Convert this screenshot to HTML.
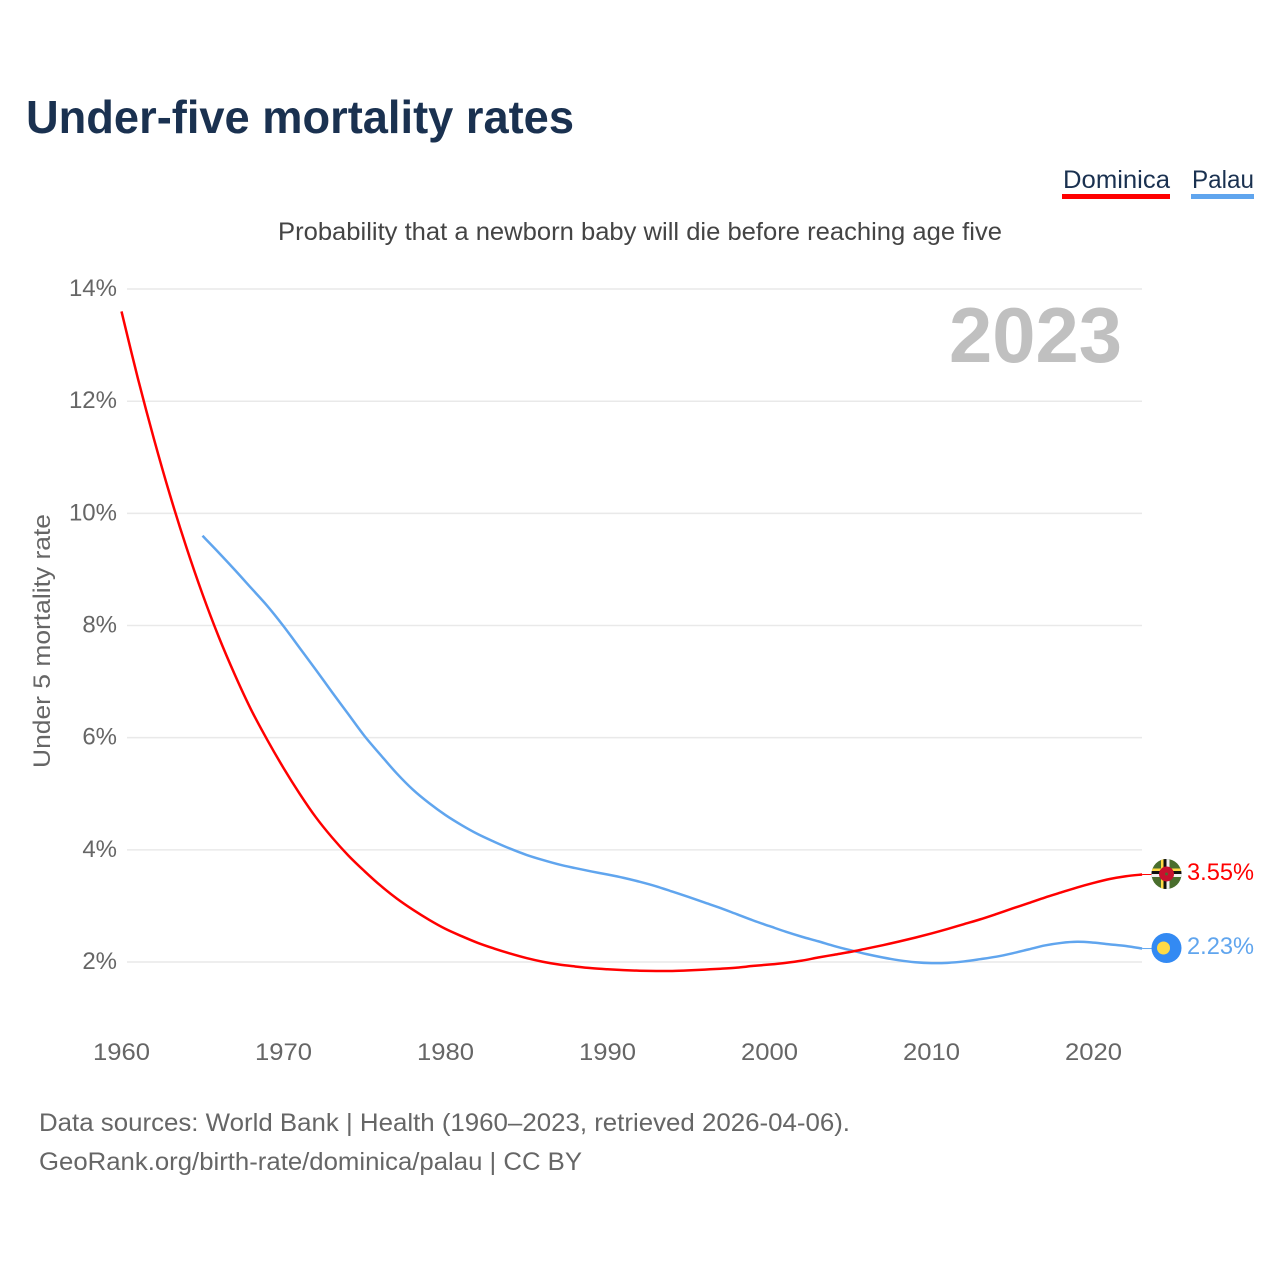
<!DOCTYPE html>
<html lang="en">
<head>
<meta charset="utf-8">
<title>Under-five mortality rates</title>
<style>
html,body{margin:0;padding:0;background:#fff;}
svg{display:block;font-family:"Liberation Sans",sans-serif;}
</style>
</head>
<body>
<svg id="chart" xmlns="http://www.w3.org/2000/svg" width="1280" height="1280" viewBox="0 0 1280 1280">
  <defs>
    <clipPath id="flag-clip-d"><circle cx="1166.5" cy="874" r="15"/></clipPath>
    <clipPath id="flag-clip-p"><circle cx="1166.5" cy="948" r="15"/></clipPath>
  </defs>
  <rect width="1280" height="1280" fill="#fff"/>
  <text x="26" y="133" font-size="46" font-weight="700" fill="#1a3150" textLength="548" lengthAdjust="spacingAndGlyphs">Under-five mortality rates</text>

  <text x="1063" y="188" font-size="25" fill="#1a3150" textLength="107" lengthAdjust="spacingAndGlyphs">Dominica</text>
  <rect x="1062" y="194" width="108" height="5" fill="#ff0000"/>
  <text x="1192" y="188" font-size="25" fill="#1a3150" textLength="62" lengthAdjust="spacingAndGlyphs">Palau</text>
  <rect x="1191" y="194" width="63" height="5" fill="#60a5ee"/>

  <text x="278" y="240" font-size="25" fill="#444" textLength="724" lengthAdjust="spacingAndGlyphs">Probability that a newborn baby will die before reaching age five</text>

  <text x="949" y="362" font-size="78" font-weight="700" fill="#c0c0c0" textLength="173" lengthAdjust="spacingAndGlyphs">2023</text>

  <text transform="translate(50 768) rotate(-90)" x="0" y="0" font-size="24" fill="#666" textLength="254" lengthAdjust="spacingAndGlyphs">Under 5 mortality rate</text>

  <g id="grid"></g>
  <g id="y-labels"></g>
  <g id="x-labels"></g>
  <g id="lines"></g>

  <g clip-path="url(#flag-clip-d)">
    <rect x="1151" y="859" width="31" height="30" fill="#496e2d"/>
    <rect x="1151" y="868.5" width="31" height="2.5" fill="#ffda44"/>
    <rect x="1151" y="871" width="31" height="3" fill="#111"/>
    <rect x="1151" y="874" width="31" height="3" fill="#f0f0f0"/>
    <rect x="1161" y="859" width="2.5" height="30" fill="#ffda44"/>
    <rect x="1163.5" y="859" width="3" height="30" fill="#111"/>
    <rect x="1166.5" y="859" width="3" height="30" fill="#f0f0f0"/>
    <circle cx="1166.5" cy="874" r="7.5" fill="#c8102e"/>
    <circle cx="1166.5" cy="874" r="1.5" fill="#496e2d"/>
  </g>
  <g clip-path="url(#flag-clip-p)">
    <rect x="1151" y="933" width="31" height="30" fill="#338af3"/>
    <circle cx="1163.5" cy="948" r="6.5" fill="#ffda44"/>
  </g>
  <text x="1187" y="880" font-size="24" fill="#ff0000" textLength="67" lengthAdjust="spacingAndGlyphs">3.55%</text>
  <text x="1187" y="954" font-size="24" fill="#60a5ee" textLength="67" lengthAdjust="spacingAndGlyphs">2.23%</text>

  <text x="39" y="1131" font-size="25" fill="#666" textLength="811" lengthAdjust="spacingAndGlyphs">Data sources: World Bank | Health (1960–2023, retrieved 2026-04-06).</text>
  <text x="39" y="1170" font-size="25" fill="#666" textLength="543" lengthAdjust="spacingAndGlyphs">GeoRank.org/birth-rate/dominica/palau | CC BY</text>
</svg>
<script>
var yTicks = [2, 4, 6, 8, 10, 12, 14];
var xTicks = [1960, 1970, 1980, 1990, 2000, 2010, 2020];
var dominicaStartYear = 1960;
var dominicaValues = [13.6, 12.42, 11.33, 10.32, 9.4, 8.56, 7.8, 7.12, 6.5, 5.96,
  5.46, 5.0, 4.58, 4.22, 3.9, 3.62, 3.36, 3.13, 2.93, 2.75,
  2.59, 2.46, 2.34, 2.24, 2.15, 2.07, 2.005, 1.955, 1.92, 1.89,
  1.87, 1.855, 1.845, 1.84, 1.84, 1.85, 1.865, 1.88, 1.9, 1.93,
  1.955, 1.985, 2.025, 2.08, 2.13, 2.18, 2.24, 2.3, 2.365, 2.435,
  2.51, 2.59, 2.675, 2.76, 2.855, 2.955, 3.05, 3.15, 3.24, 3.33,
  3.41, 3.48, 3.53, 3.56];
var palauStartYear = 1965;
var palauValues = [9.6, 9.3, 8.99, 8.67, 8.35,
  7.99, 7.6, 7.21, 6.81, 6.42, 6.03, 5.69, 5.36, 5.07, 4.83,
  4.62, 4.44, 4.28, 4.145, 4.02, 3.91, 3.82, 3.74, 3.675, 3.615,
  3.56, 3.5, 3.43, 3.35, 3.255, 3.16, 3.06, 2.96, 2.85, 2.74,
  2.64, 2.54, 2.45, 2.37, 2.285, 2.21, 2.14, 2.08, 2.03, 1.995,
  1.98, 1.985, 2.01, 2.05, 2.095, 2.155, 2.225, 2.295, 2.34, 2.36,
  2.345, 2.315, 2.285, 2.24];

var NS = 'http://www.w3.org/2000/svg';
function xPos(year) { return 121.5 + (year - 1960) * 16.2; }
function yPos(v) { return 962 - (v - 2) * 56.08; }
function make(tag, attrs, parent) {
  var el = document.createElementNS(NS, tag);
  for (var k in attrs) el.setAttribute(k, attrs[k]);
  parent.appendChild(el);
  return el;
}
var grid = document.getElementById('grid');
var yLabels = document.getElementById('y-labels');
var xLabels = document.getElementById('x-labels');
var lines = document.getElementById('lines');

yTicks.forEach(function (t) {
  var gl = make('line', {x1: 127, x2: 1142, y1: yPos(t), y2: yPos(t), stroke: '#e9e9e9', 'stroke-width': 1.5}, grid);
  
  
  var lab = make('text', {x: 117, y: yPos(t) + 7, 'text-anchor': 'end', 'font-size': 24, fill: '#666'}, yLabels);
  
  
  lab.textContent = t + '%';
});
xTicks.forEach(function (t) {
  var lab = make('text', {x: xPos(t), y: 1060, 'text-anchor': 'middle', 'font-size': 24, fill: '#666', textLength: 57, lengthAdjust: 'spacingAndGlyphs'}, xLabels);
  
  
  lab.textContent = t;
});
function smoothPath(values, start) {
  var pts = values.map(function (v, i) { return [xPos(start + i), yPos(v)]; });
  var d = 'M' + pts[0][0].toFixed(2) + ',' + pts[0][1].toFixed(2);
  for (var i = 0; i < pts.length - 1; i++) {
    var p0 = pts[Math.max(i - 1, 0)], p1 = pts[i], p2 = pts[i + 1], p3 = pts[Math.min(i + 2, pts.length - 1)];
    var c1x = p1[0] + (p2[0] - p0[0]) / 6, c1y = p1[1] + (p2[1] - p0[1]) / 6;
    var c2x = p2[0] - (p3[0] - p1[0]) / 6, c2y = p2[1] - (p3[1] - p1[1]) / 6;
    d += 'C' + c1x.toFixed(2) + ',' + c1y.toFixed(2) + ' ' + c2x.toFixed(2) + ',' + c2y.toFixed(2) + ' ' + p2[0].toFixed(2) + ',' + p2[1].toFixed(2);
  }
  return d;
}
var palauLine = make('path', {d: smoothPath(palauValues, palauStartYear), fill: 'none', stroke: '#60a5ee', 'stroke-width': 2.5, 'stroke-linejoin': 'round'}, lines);


var domLine = make('path', {d: smoothPath(dominicaValues, dominicaStartYear), fill: 'none', stroke: '#ff0000', 'stroke-width': 2.5, 'stroke-linejoin': 'round'}, lines);



var palauLast = palauValues[palauValues.length - 1];
var domLast = dominicaValues[dominicaValues.length - 1];
var palauStub = make('line', {x1: xPos(2023), x2: 1152, y1: yPos(palauLast), y2: yPos(palauLast), stroke: '#60a5ee', 'stroke-width': 1}, lines);


var domStub = make('line', {x1: xPos(2023), x2: 1152, y1: yPos(domLast), y2: yPos(domLast), stroke: '#ff0000', 'stroke-width': 1}, lines);


</script>
</body>
</html>
